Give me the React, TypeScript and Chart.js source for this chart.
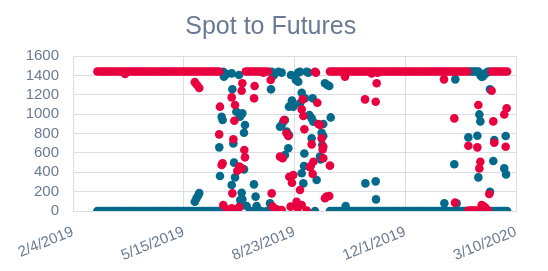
import { useEffect, useRef } from 'react';
import { Chart, registerables } from 'chart.js';

Chart.register(...registerables);

// X axis: days since 2/4/2019; tick labels every 100 days
const xTickDays = [0, 100, 200, 300, 400];
const xTickLabels = ['2/4/2019', '5/15/2019', '8/23/2019', '12/1/2019', '3/10/2020'];
const yTickValues = [0, 200, 400, 600, 800, 1000, 1200, 1400, 1600];

// Plateau levels
const upperLevel = 1440;
const lowerLevel = 0;

// Days where the two series sit on their plateaus (red high, teal low)
const steadyDaysSpring = [
  22, 24, 26, 28, 30, 32, 34, 36, 38, 40, 42, 44, 46, 48, 50, 52, 54, 56, 58, 60, 62, 64, 66, 68, 70,
  72, 74, 76, 78, 80, 82, 84, 86, 88, 90, 92, 94, 96, 98, 100, 102, 104, 106, 108, 110, 112, 114, 116,
  118, 120, 122, 124, 126, 128, 130, 132,
];
const steadyDaysFall = [
  232, 234, 236, 238, 240, 242, 244, 246, 248, 250, 252, 254, 256, 258, 260, 262, 264, 266, 268, 270,
  272, 274, 276, 278, 280, 282, 284, 286, 288, 290, 292, 294, 296, 298, 300, 302, 304, 306, 308, 310,
  312, 314, 316, 318, 320, 322, 324, 326, 328, 330, 332, 334, 336, 338, 340, 342, 344, 346, 348, 350,
  352, 354, 356,
];
const steadyDaysLate = [378, 380, 382, 384, 386, 388, 390, 392];

// Short plateau stretches inside the volatile periods
const redHighMidDays = [156, 158, 160, 162, 164, 166, 168, 170, 172, 174, 176];
const redLowLateDays = [357, 359, 361, 363, 365, 367];
const tealHighLateDays = [358, 360, 362, 364, 366];
const tealLowMidDays = [134, 138, 145, 148, 160, 163, 167, 170, 175, 179];

// Scattered readings [day, value]
const redScatter: [number, number][] = [
  [47, 1415], [110, 1330], [112, 1300], [114, 1270],
  [132, 791], [132.7, 1077], [134.2, 475], [135.1, 492], [135.7, 62], [138.8, 17], [141.2, 0],
  [143.3, 28], [143.3, 1173], [143.9, 182], [144.8, 740], [145.7, 932], [146.3, 1094], [148.4, 416],
  [150, 40], [150.2, 458], [152.3, 440], [152.3, 1242], [152.9, 1318], [154.7, 630], [155.3, 554],
  [163.5, 1163], [164, 1290], [172, 1428], [178.5, 1352], [179.4, 182], [180.3, 45], [183.9, 17],
  [186.9, 561], [188.4, 10], [189.3, 544], [190.5, 939], [192.9, 802], [194.4, 774], [195.3, 354],
  [196.5, 45], [197.7, 292], [198.9, 372], [201.9, 96], [203, 30],
  [205, 217], [206.5, 1049], [206.5, 62], [207.4, 1152], [208, 980], [208.9, 843], [211, 4],
  [214, 451], [214.6, 464], [215.5, 688], [216.4, 382], [217, 509], [218.5, 1438], [219.4, 1428],
  [220.6, 1118], [221.5, 898], [223, 887], [224.5, 750], [225.4, 636], [226, 664], [226, 544],
  [227.5, 131], [229, 148], [231.4, 155], [232, 468],
  [245.6, 1387], [263.7, 1152], [269.7, 1421], [273.3, 1128], [274.2, 1318], [275.1, 1428],
  [335, 1359], [344.3, 956], [344.9, 86],
  [357, 674], [365.1, 657], [366, 1094], [366.9, 440], [367.8, 509], [369, 62], [370.5, 50],
  [372, 38], [374.4, 10], [375.9, 175], [378, 1242], [379.5, 925], [380.4, 705], [389.4, 997],
  [390.7, 664], [391.6, 1060],
];

const tealScatter: [number, number][] = [
  [110, 95], [111.5, 130], [113, 160], [114, 185],
  [132.1, 657], [132.7, 361], [134.2, 973], [135.1, 939], [135.7, 1438], [136.3, 1387],
  [138.8, 1414], [143.3, 1421], [143.3, 268], [143.9, 1256], [144.8, 698], [145.4, 499],
  [146.3, 347], [147.5, 1025], [149.9, 1404], [150.2, 1001], [150.8, 973], [150.8, 45],
  [151, 113], [152.3, 189], [152.9, 1008], [152.9, 120], [154.4, 808], [154.4, 430], [155.3, 887],
  [156.8, 52], [163.4, 275], [164.9, 148], [165.8, 52], [177.9, 79], [178.8, 1256], [179.4, 1438],
  [180.9, 1397], [182.4, 1421], [185.4, 1438], [186.9, 870], [188.4, 1428], [188.4, 887],
  [189.9, 922], [191.4, 939], [191.4, 578], [192.9, 819], [194.4, 647], [195, 1077], [195, 784],
  [196.8, 1404], [197.7, 1139], [198.9, 1077], [201.3, 1352], [203.4, 1428], [203.4, 1335],
  [205, 1438], [205, 1111], [206.5, 1221], [206.5, 389], [208, 285], [208.6, 464], [208.9, 594],
  [209.5, 1163], [211, 1438], [212.5, 1428], [213.4, 990], [215.5, 956], [215.5, 750], [216.4, 1163],
  [217, 922], [218.5, 0], [220, 320], [223, 561], [223.6, 533], [224.5, 808], [225.1, 681],
  [226, 898], [226, 774], [227.5, 1318], [229.6, 1301], [231.4, 1290], [232.7, 966],
  [246.2, 52], [264, 285], [273.3, 306], [273.6, 120], [335.3, 79], [344.3, 482], [345.2, 1359],
  [346.4, 79], [357, 760], [365.1, 777], [366, 347], [366.9, 997], [367, 1425], [367.8, 925],
  [368, 1400], [369, 1385], [370, 1390], [371, 1405], [372, 1414], [373, 1425], [374, 1435],
  [375, 1438], [376, 1438], [376.5, 1256], [376.5, 199], [379.5, 516], [380.4, 733],
  [389.4, 440], [390.7, 774], [391, 378],
];

const RED = '#e8003f';
const TEAL = '#046a8b';
const TEXT = '#6b7a94';
const GRID = '#dcdde5';
const FONT = "'Liberation Sans', Arial, sans-serif";

export default function App() {
  const ref = useRef<HTMLCanvasElement>(null);

  useEffect(() => {
    if (!ref.current) return;
    const at = (days: number[], v: number) => days.map((d) => ({ x: d, y: v }));
    const pts = (pairs: [number, number][]) => pairs.map(([x, y]) => ({ x, y }));

    const redData = [
      ...at(steadyDaysSpring, upperLevel),
      ...at(steadyDaysFall, upperLevel),
      ...at(steadyDaysLate, upperLevel),
      ...at(redHighMidDays, upperLevel),
      ...at(redLowLateDays, lowerLevel + 5),
      ...pts(redScatter),
    ];
    const tealData = [
      ...at(steadyDaysSpring, lowerLevel),
      ...at(steadyDaysFall, lowerLevel),
      ...at(steadyDaysLate, lowerLevel),
      ...at(tealLowMidDays, lowerLevel),
      ...at(tealHighLateDays, upperLevel),
      ...pts(tealScatter),
    ];

    const chart = new Chart(ref.current, {
      type: 'scatter',
      data: {
        datasets: [
          {
            label: 'Spot',
            data: redData,
            backgroundColor: RED,
            borderColor: RED,
            borderWidth: 0,
            pointRadius: 4.3,
            pointHoverRadius: 4.3,
          },
          {
            label: 'Futures',
            data: tealData,
            backgroundColor: TEAL,
            borderColor: TEAL,
            borderWidth: 0,
            pointRadius: 4.3,
            pointHoverRadius: 4.3,
          },
        ],
      },
      options: {
        animation: false,
        responsive: false,
        devicePixelRatio: 1,
        layout: { padding: { left: 25.5, right: 32, top: 12, bottom: 0 } },
        plugins: {
          legend: { display: false },
          tooltip: { enabled: false },
          title: {
            display: true,
            text: 'Spot to Futures',
            color: TEXT,
            font: { family: FONT, size: 25, weight: 'normal' },
            padding: { top: 0, bottom: 14 },
          },
        },
        scales: {
          x: {
            type: 'linear',
            min: 0,
            max: 400,
            border: { color: GRID },
            grid: { color: GRID, drawTicks: false },
            afterBuildTicks: (axis: any) => {
              axis.ticks = xTickDays.map((v) => ({ value: v }));
            },
            afterFit: (axis: any) => {
              axis.height = 60;
            },
            ticks: {
              autoSkip: false,
              minRotation: 22,
              maxRotation: 22,
              padding: 12,
              color: TEXT,
              font: { family: FONT, size: 15 },
              callback: (v: any) => xTickLabels[xTickDays.indexOf(Number(v))] ?? '',
            },
          },
          y: {
            min: 0,
            max: 1600,
            border: { color: GRID },
            grid: { color: GRID, drawTicks: false },
            afterBuildTicks: (axis: any) => {
              axis.ticks = yTickValues.map((v) => ({ value: v }));
            },
            afterFit: (axis: any) => {
              axis.width = 47.5;
            },
            ticks: {
              autoSkip: false,
              padding: 14,
              color: TEXT,
              font: { family: FONT, size: 15 },
              callback: (v: any) => String(v),
            },
          },
        },
      },
    });
    return () => chart.destroy();
  }, []);

  return (
    <div style={{ position: 'fixed', left: 0, top: 0, width: 548, height: 271 }}>
      <canvas ref={ref} width={548} height={271} style={{ display: 'block' }} />
    </div>
  );
}
